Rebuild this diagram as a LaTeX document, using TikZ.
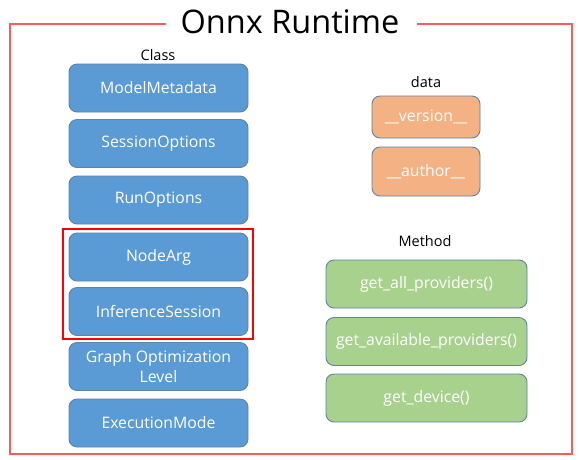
\documentclass[tikz,border=0pt]{standalone}
\usepackage{fontspec}
\setmainfont{Open Sans}
\begin{document}
\begin{tikzpicture}[x=1pt,y=-1pt,
  box/.style={rounded corners=8pt, draw=boxedge, line width=0.9pt, text=white,
    font=\fontsize{15.8}{20}\selectfont, align=center, inner sep=0pt},
  classbox/.style={box, fill=clsblue, minimum width=179pt, minimum height=48pt},
  databox/.style={box, fill=dataorange, minimum width=108pt},
  methbox/.style={box, fill=methgreen, minimum width=201pt, minimum height=48pt},
  lbl/.style={font=\fontsize{14.5}{17}\selectfont, text=black, inner sep=0pt},
  frame/.style={draw=framered, line width=1.3pt}]
\definecolor{clsblue}{HTML}{5B9BD5}
\definecolor{dataorange}{HTML}{F4B183}
\definecolor{methgreen}{HTML}{A9D18E}
\definecolor{boxedge}{HTML}{5E82A8}
\definecolor{framered}{HTML}{FF5A5A}
\useasboundingbox (0,0) rectangle (580,459);
\fill[white] (0,0) rectangle (580,459);
% outer frame
\coordinate (gl) at (166,24);
\coordinate (gr) at (417,24);
\coordinate (tl) at (10,24);
\coordinate (tr) at (572,24);
\coordinate (bl) at (10,454);
\coordinate (br) at (572,454);
\draw[frame] (gl) -- (tl) -- (bl) -- (br) -- (tr) -- (gr);
\node[font=\fontsize{32.5}{38}\selectfont, inner sep=0pt, anchor=base] (title) at (290,33.5) {Onnx Runtime};
% class column
\node[lbl] (class) at (158,55) {Class};
\node[classbox] (mm) at (158.5,88) {ModelMetadata};
\node[classbox] (so) at (158.5,143.5) {SessionOptions};
\node[classbox] (ro) at (158.5,200) {RunOptions};
\node[classbox] (na) at (158.5,257) {NodeArg};
\node[classbox] (is) at (158.5,311.5) {InferenceSession};
\node[classbox] (go) at (158.5,366.5) {Graph Optimization\\Level};
\node[classbox] (em) at (158.5,423) {ExecutionMode};
\draw[draw=red, line width=2.6pt] (63,229) rectangle (253,339);
% data column
\node[lbl] (data) at (426,82) {data};
\node[databox, minimum height=42pt] (ver) at (426,117) {\_\_version\_\_};
\node[databox, minimum height=49pt] (auth) at (426,171.5) {\_\_author\_\_};
% method column
\node[lbl] (meth) at (425,241) {Method};
\node[methbox] (gap) at (426.5,284) {get\_all\_providers()};
\node[methbox] (gav) at (426.5,341.5) {get\_available\_providers()};
\node[methbox] (gd) at (426.5,398) {get\_device()};
\end{tikzpicture}
\end{document}
